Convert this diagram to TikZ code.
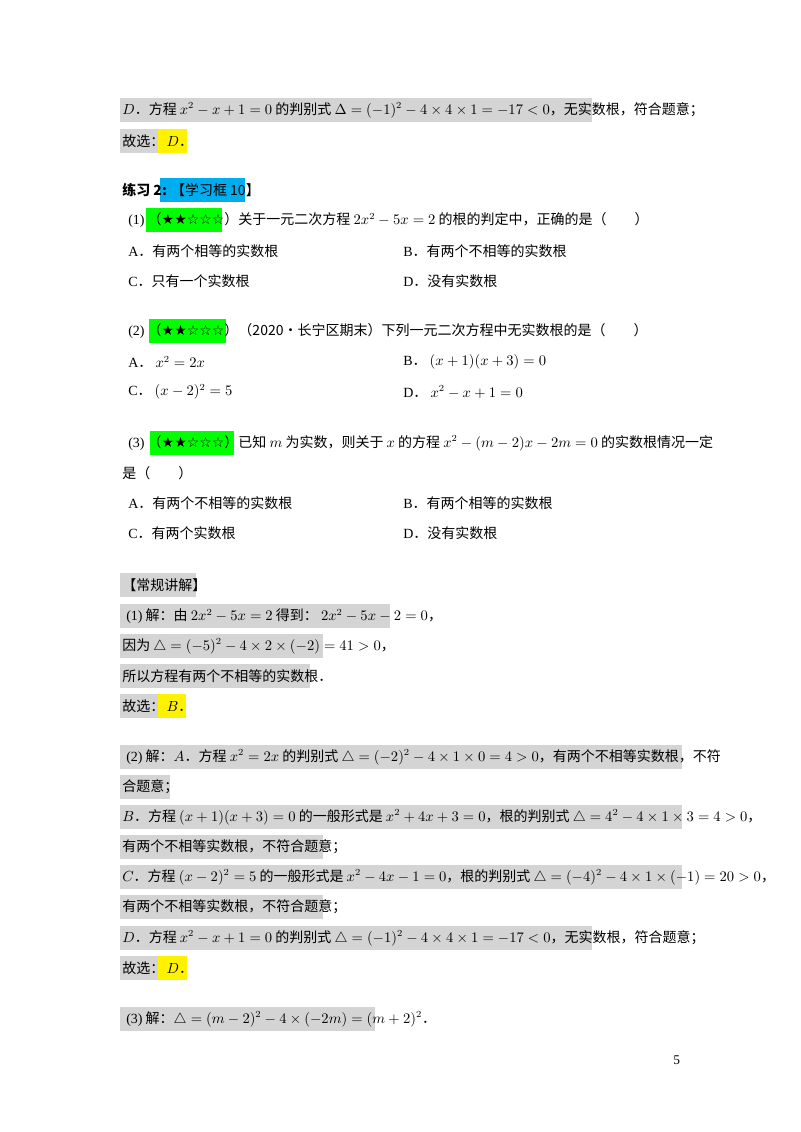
\documentclass[tikz,border=0pt]{standalone}
\usepackage[no-math]{fontspec}
\setmainfont{Noto Sans CJK SC}
\newfontfamily\sym{DejaVu Sans}
\newfontfamily\rmn{Liberation Serif}
\begin{document}
\begin{tikzpicture}[x=0.75pt,y=-0.75pt,
  t/.style={anchor=west,inner sep=0pt,font=\fontsize{10.5}{12}\selectfont},
  gb/.style={fill=black!17,draw=none},
  yb/.style={fill=yellow,draw=none},
  cb/.style={fill=cyan,draw=none},
  grb/.style={fill=green,draw=none}]
\useasboundingbox[fill=white] (0,0) rectangle (800,1132);
\newcommand\bx[4][gb]{\fill[#1] (#2,#4-12) rectangle (#3,#4+12);}
% top D
\bx{120}{592}{110}
\node[t] (d0) at (122,110) {$D$．方程 $x^2-x+1=0$ 的判别式 $\Delta=(-1)^2-4\times4\times1=-17<0$，无实数根，符合题意；};
\bx{120}{158}{141}\bx[yb]{158}{187}{141}
\node[t] (g0) at (122,141) {故选：\,$D$．};
% exercise
\bx[cb]{160}{245}{190}
\node[t] (ex) at (122,190) {\textbf{练习 2:} 【学习框 10】};
\bx[grb]{146}{222}{220}
\node[t] (q1) at (128,220) {{\rmn(1)} （{\sym ★★☆☆☆}）关于一元二次方程 $2x^2-5x=2$ 的根的判定中，正确的是（\qquad）};
\node[t] (q1a) at (128,251) {{\rmn A}．有两个相等的实数根};
\node[t] (q1b) at (403,251) {{\rmn B}．有两个不相等的实数根};
\node[t] (q1c) at (128,281) {{\rmn C}．只有一个实数根};
\node[t] (q1d) at (403,281) {{\rmn D}．没有实数根};
\bx[grb]{149}{226}{331}
\node[t] (q2) at (128,331) {{\rmn(2)} （{\sym ★★☆☆☆}）（2020•长宁区期末）下列一元二次方程中无实数根的是（\qquad）};
\node[t] (q2a) at (128,362) {{\rmn A}．\ $x^2=2x$};
\node[t] (q2b) at (403,362) {{\rmn B}．\ $(x+1)(x+3)=0$};
\node[t] (q2c) at (128,392) {{\rmn C}．\ $(x-2)^2=5$};
\node[t] (q2d) at (403,392) {{\rmn D}．\ $x^2-x+1=0$};
\bx[grb]{150}{234}{443}
\node[t] (q3) at (128,443) {{\rmn(3)} （{\sym ★★☆☆☆}）已知 $m$ 为实数，则关于 $x$ 的方程 $x^2-(m-2)x-2m=0$ 的实数根情况一定};
\node[t] (q3b) at (122,473) {是（\qquad）};
\node[t] (q3a1) at (128,503) {{\rmn A}．有两个不相等的实数根};
\node[t] (q3b1) at (403,503) {{\rmn B}．有两个相等的实数根};
\node[t] (q3c1) at (128,533) {{\rmn C}．有两个实数根};
\node[t] (q3d1) at (403,533) {{\rmn D}．没有实数根};
% solutions
\bx{120}{196}{585}
\node[t] (s0) at (122,585) {【常规讲解】};
\bx{120}{390}{616}
\node[t] (s1) at (126,616) {{\rmn(1)} 解：由 $2x^2-5x=2$ 得到：\ $2x^2-5x-2=0$，};
\bx{120}{323}{646}
\node[t] (s2) at (122,646) {因为 $\triangle=(-5)^2-4\times2\times(-2)=41>0$，};
\bx{120}{310}{676}
\node[t] (s3) at (122,676) {所以方程有两个不相等的实数根．};
\bx{120}{158}{706}\bx[yb]{158}{186}{706}
\node[t] (s4) at (122,706) {故选：\,$B$．};
\bx{120}{682}{757}
\node[t] (s5) at (126,757) {{\rmn(2)} 解：$A$．方程 $x^2=2x$ 的判别式 $\triangle=(-2)^2-4\times1\times0=4>0$，有两个不相等实数根，不符};
\bx{120}{170}{787}
\node[t] (s6) at (122,787) {合题意；};
\bx{120}{682}{817}
\node[t] (s7) at (122,817) {$B$．方程 $(x+1)(x+3)=0$ 的一般形式是 $x^2+4x+3=0$，根的判别式 $\triangle=4^2-4\times1\times3=4>0$，};
\bx{120}{323}{847}
\node[t] (s8) at (122,847) {有两个不相等实数根，不符合题意；};
\bx{120}{682}{877}
\node[t] (s9) at (122,877) {$C$．方程 $(x-2)^2=5$ 的一般形式是 $x^2-4x-1=0$，根的判别式 $\triangle=(-4)^2-4\times1\times(-1)=20>0$，};
\bx{120}{323}{907}
\node[t] (s10) at (122,907) {有两个不相等实数根，不符合题意；};
\bx{120}{592}{938}
\node[t] (s11) at (122,938) {$D$．方程 $x^2-x+1=0$ 的判别式 $\triangle=(-1)^2-4\times4\times1=-17<0$，无实数根，符合题意；};
\bx{120}{158}{968}\bx[yb]{158}{187}{968}
\node[t] (s12) at (122,968) {故选：\,$D$．};
\bx{120}{375}{1019}
\node[t] (s13) at (126,1019) {{\rmn(3)} 解：$\triangle=(m-2)^2-4\times(-2m)=(m+2)^2$．};
\node[t,font=\rmn\fontsize{10}{12}\selectfont] (pg) at (673,1060) {5};
\end{tikzpicture}
\end{document}
